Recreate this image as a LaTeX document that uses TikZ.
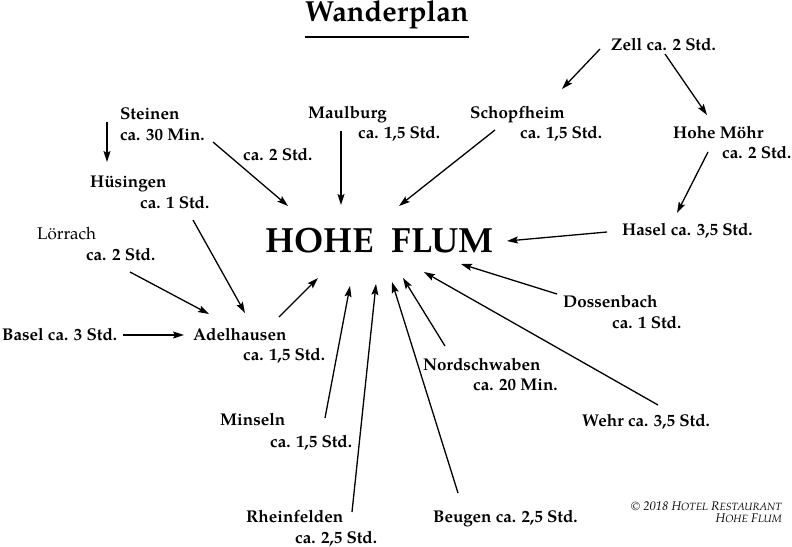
\documentclass[tikz,border=0pt]{standalone}
\usepackage{fontspec}
\setmainfont{TeX Gyre Pagella}
\usetikzlibrary{arrows.meta}
\tikzset{
  ort/.style={font=\fontsize{17}{19}\selectfont\bfseries, anchor=base west, inner sep=0pt},
  ortleicht/.style={font=\fontsize{17}{19}\selectfont, anchor=base west, inner sep=0pt},
  pfeil/.style={line width=1.3pt, -{Stealth[length=11pt,width=7pt,inset=2pt]}},
}
\newcommand{\kl}[1]{{\fontsize{10.5}{11}\selectfont #1}}
\begin{document}
\begin{tikzpicture}[x=1pt, y=-1pt]
\useasboundingbox (0,0) rectangle (792,546);

% Titel
\node (titel) [anchor=base west, inner sep=0pt, font=\fontsize{29}{30}\selectfont\bfseries] at (305,21) {Wanderplan};
\draw[line width=2pt] (titel.south west |- 0,37) -- (titel.south east |- 0,37);

% Ziel
\node (ziel) [anchor=base west, inner sep=0pt, font=\fontsize{35}{40}\selectfont\bfseries] at (265,252) {HOHE~~FLUM};

% Orte
\node (zell)   [ort] at (611,50)  {Zell ca. 2 Std.};
\node (steinen)  [ort] at (120,119) {Steinen};
\node (steinenz) [ort] at (120,140) {ca. 30 Min.};
\node (steinenh) [ort] at (243,160) {ca. 2 Std.};
\node (maulburg)  [ort] at (308,118) {Maulburg};
\node (maulburgz) [ort] at (358,138) {ca. 1,5 Std.};
\node (schopf)  [ort] at (470,118) {Schopfheim};
\node (schopfz) [ort] at (520,138) {ca. 1,5 Std.};
\node (moehr)  [ort] at (673,138) {Hohe Möhr};
\node (moehrz) [ort] at (722,158) {ca. 2 Std.};
\node (huesingen)  [ort] at (90,187)  {Hüsingen};
\node (huesingenz) [ort] at (140,208) {ca. 1 Std.};
\node (loerrach)  [ortleicht] at (37,239) {Lörrach};
\node (loerrachz) [ort] at (86,260) {ca. 2 Std.};
\node (hasel) [ort] at (622,235) {Hasel ca. 3,5 Std.};
\node (dossen)  [ort] at (563,307) {Dossenbach};
\node (dossenz) [ort] at (612,328) {ca. 1 Std.};
\node (basel) [ort] at (2,340) {Basel ca. 3 Std.};
\node (adel)  [ort] at (193,340) {Adelhausen};
\node (adelz) [ort] at (243,360) {ca. 1,5 Std.};
\node (nord)  [ort] at (423,370) {Nordschwaben};
\node (nordz) [ort] at (473,390) {ca. 20 Min.};
\node (minseln)  [ort] at (220,425) {Minseln};
\node (minselnz) [ort] at (270,447) {ca. 1,5 Std.};
\node (wehr) [ort] at (582,426) {Wehr ca. 3,5 Std.};
\node (rhein)  [ort] at (246,522) {Rheinfelden};
\node (rheinz) [ort] at (295,543) {ca. 2,5 Std.};
\node (beugen) [ort] at (433,522) {Beugen ca. 2,5 Std.};

% Copyright
\node (copy) [anchor=base east, inner sep=0pt, align=right, font=\fontsize{12.5}{11.5}\selectfont\itshape] at (782,522)
  {\copyright\ 2018 H\kl{OTEL} R\kl{ESTAURANT}\\H\kl{OHE} F\kl{LUM}};

% Pfeilenden
\coordinate (zell-a) at (600,49);   \coordinate (schopf-e) at (562,89);
\coordinate (zell-b) at (665,54);   \coordinate (moehr-e) at (707,115);
\coordinate (moehr-a) at (708,152); \coordinate (hasel-e) at (677,213);
\coordinate (hasel-a) at (607,232); \coordinate (z-hasel) at (507,241);
\coordinate (schopf-a) at (495,130); \coordinate (z-schopf) at (399,206);
\coordinate (maulburg-a) at (341,131); \coordinate (z-maulburg) at (341,205);
\coordinate (steinen-a) at (213,142); \coordinate (z-steinen) at (288,206);
\coordinate (steinen-b) at (107,122); \coordinate (huesingen-e) at (107,162);
\coordinate (huesingen-a) at (193,220); \coordinate (adel-e1) at (245,313);
\coordinate (loerrach-a) at (130,272); \coordinate (adel-e2) at (209,314);
\coordinate (basel-a) at (123,335); \coordinate (adel-e3) at (184,335);
\coordinate (adel-a) at (279,317); \coordinate (z-adel) at (318,278);
\coordinate (minseln-a) at (325,418); \coordinate (z-minseln) at (350,286);
\coordinate (rhein-a) at (352,512); \coordinate (z-rhein) at (376,284);
\coordinate (beugen-a) at (458,493); \coordinate (z-beugen) at (392,282);
\coordinate (nord-a) at (445,346); \coordinate (z-nord) at (403,278);
\coordinate (wehr-a) at (658,405); \coordinate (z-wehr) at (424,272);
\coordinate (dossen-a) at (557,294); \coordinate (z-dossen) at (461,264);

% Pfeile
\draw[pfeil] (zell-a) -- (schopf-e);
\draw[pfeil] (zell-b) -- (moehr-e);
\draw[pfeil] (moehr-a) -- (hasel-e);
\draw[pfeil] (hasel-a) -- (z-hasel);
\draw[pfeil] (schopf-a) -- (z-schopf);
\draw[pfeil] (maulburg-a) -- (z-maulburg);
\draw[pfeil] (steinen-a) -- (z-steinen);
\draw[pfeil] (steinen-b) -- (huesingen-e);
\draw[pfeil] (huesingen-a) -- (adel-e1);
\draw[pfeil] (loerrach-a) -- (adel-e2);
\draw[pfeil] (basel-a) -- (adel-e3);
\draw[pfeil] (adel-a) -- (z-adel);
\draw[pfeil] (minseln-a) -- (z-minseln);
\draw[pfeil] (rhein-a) -- (z-rhein);
\draw[pfeil] (beugen-a) -- (z-beugen);
\draw[pfeil] (nord-a) -- (z-nord);
\draw[pfeil] (wehr-a) -- (z-wehr);
\draw[pfeil] (dossen-a) -- (z-dossen);

\end{tikzpicture}
\end{document}
